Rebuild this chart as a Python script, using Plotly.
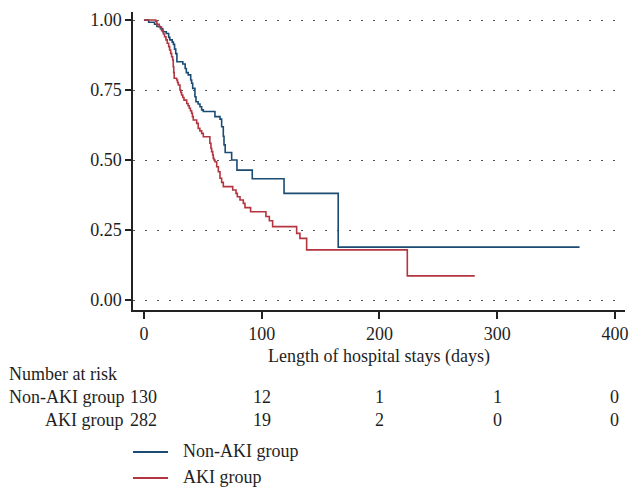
import plotly.graph_objects as go

# ---- Data ----
non_aki_t = [0, 4, 9, 11, 14, 16, 19, 21, 22, 24, 25, 26, 27, 28, 33, 35, 36, 37.6, 39.7, 40.5,
             41.4, 43.3, 44.2, 46, 47.6, 49, 50.4, 60.3, 64.6, 66, 67.4, 68, 69, 74.5, 79, 92,
             119, 165, 370]
non_aki_s = [1.0, 0.992, 0.985, 0.977, 0.969, 0.958, 0.952, 0.938, 0.929, 0.921, 0.913, 0.896,
             0.880, 0.851, 0.843, 0.827, 0.812, 0.804, 0.786, 0.774, 0.756, 0.726, 0.708, 0.700,
             0.690, 0.679, 0.673, 0.655, 0.646, 0.619, 0.585, 0.554, 0.527, 0.500, 0.464, 0.433,
             0.381, 0.189, 0.189]

aki_t = [0, 10, 11, 13, 15, 16.5, 17.5, 18.7, 19.8, 21, 21.8, 22.7, 23.5, 24.4, 24.9, 25.3, 25.7,
         27.8, 28.5, 29.2, 30.6, 31.3, 32, 33, 34, 36.3, 37.5, 38.5, 39.5, 40.5, 41.2, 41.9, 44.8,
         46.1, 47.5, 49, 50.4, 56, 56.9, 57.5, 58.4, 58.9, 59.5, 60.3, 61.8, 63.2, 64.6, 66, 67.4,
         75.4, 78.2, 79.3, 81.6, 84.4, 85.8, 90.6, 103.6, 106.5, 109.3, 129.7, 132.5, 138.2, 223.7,
         281]
aki_s = [1.0, 0.996, 0.985, 0.975, 0.962, 0.950, 0.940, 0.929, 0.917, 0.905, 0.893, 0.881, 0.869,
         0.857, 0.833, 0.812, 0.792, 0.786, 0.777, 0.768, 0.750, 0.741, 0.732, 0.723, 0.714, 0.702,
         0.694, 0.685, 0.676, 0.667, 0.655, 0.643, 0.631, 0.613, 0.604, 0.595, 0.583, 0.560, 0.542,
         0.530, 0.518, 0.506, 0.500, 0.494, 0.476, 0.458, 0.435, 0.420, 0.405, 0.393, 0.381, 0.369,
         0.357, 0.345, 0.330, 0.315, 0.298, 0.283, 0.262, 0.238, 0.220, 0.179, 0.086, 0.086]

risk_times = [0, 100, 200, 300, 400]
risk_non_aki = [130, 12, 1, 1, 0]
risk_aki = [282, 19, 2, 0, 0]
group_names = ["Non-AKI group", "AKI group"]

x_ticks = [0, 100, 200, 300, 400]
y_ticks = [0, 0.25, 0.5, 0.75, 1.0]
y_tick_text = ["0.00", "0.25", "0.50", "0.75", "1.00"]

BLUE = "#1b4a73"
RED = "#b3353f"
FONT = "Liberation Serif"
TXT = "#1e1e1e"
FS = 18

W, H = 631, 488
L, R, T, B = 133, 6, 12, 178
plot_w = W - L - R
plot_h = H - T - B


def px(pix):
    return (pix - L) / plot_w


def py(pix):
    return (H - B - pix) / plot_h


fig = go.Figure()
fig.add_trace(go.Scatter(x=non_aki_t, y=non_aki_s, mode="lines", line=dict(color=BLUE, width=1.6, shape="hv"),
                         name=group_names[0], showlegend=False))
fig.add_trace(go.Scatter(x=aki_t, y=aki_s, mode="lines", line=dict(color=RED, width=1.6, shape="hv"),
                         name=group_names[1], showlegend=False))

tf = dict(family=FONT, size=FS, color=TXT)
ann = []
ann.append(dict(text="Number at risk", xref="paper", yref="paper", x=px(7), y=py(374),
                xanchor="left", yanchor="middle", showarrow=False, font=tf))
for row_y, name, vals in [(397, group_names[0], risk_non_aki), (420, group_names[1], risk_aki)]:
    ann.append(dict(text=name, xref="paper", yref="paper", x=px(126), y=py(row_y),
                    xanchor="right", yanchor="middle", showarrow=False, font=tf))
    for t, v in zip(risk_times, vals):
        ann.append(dict(text=str(v), xref="x", yref="paper", x=t, y=py(row_y),
                        xanchor="center", yanchor="middle", showarrow=False, font=tf))

# manual legend
shapes = []
for ly, name, col in [(452, group_names[0], BLUE), (478, group_names[1], RED)]:
    shapes.append(dict(type="line", xref="paper", yref="paper", x0=px(133), x1=px(168),
                       y0=py(ly), y1=py(ly), line=dict(color=col, width=2)))
    ann.append(dict(text=name, xref="paper", yref="paper", x=px(181), y=py(ly - 1),
                    xanchor="left", yanchor="middle", showarrow=False, font=tf))

fig.update_layout(
    width=W, height=H,
    margin=dict(l=L, r=R, t=T, b=B, autoexpand=False),
    paper_bgcolor="white", plot_bgcolor="white",
    font=tf,
    showlegend=False,
    annotations=ann,
    shapes=shapes,
)
fig.update_xaxes(range=[-9.3, 408.6], tickvals=x_ticks, ticks="outside", ticklen=7, tickwidth=2,
                 tickcolor="#222", showline=True, linecolor="#222", linewidth=1.5, showgrid=False,
                 zeroline=False, automargin=False,
                 title=dict(text="Length of hospital stays (days)", standoff=6, font=tf),
                 tickfont=tf)
fig.update_yaxes(range=[-0.0357, 1.0286], tickvals=y_ticks, ticktext=y_tick_text, ticks="outside",
                 ticklen=6, tickwidth=2, tickcolor="#222", showline=True, linecolor="#222", linewidth=1.5,
                 showgrid=True, gridcolor="#555", gridwidth=1, griddash="2px,10px", zeroline=False,
                 automargin=False, tickfont=tf)

fig.write_html("out.html", config={"displayModeBar": False},
               post_script="document.body.style.margin='0';")
